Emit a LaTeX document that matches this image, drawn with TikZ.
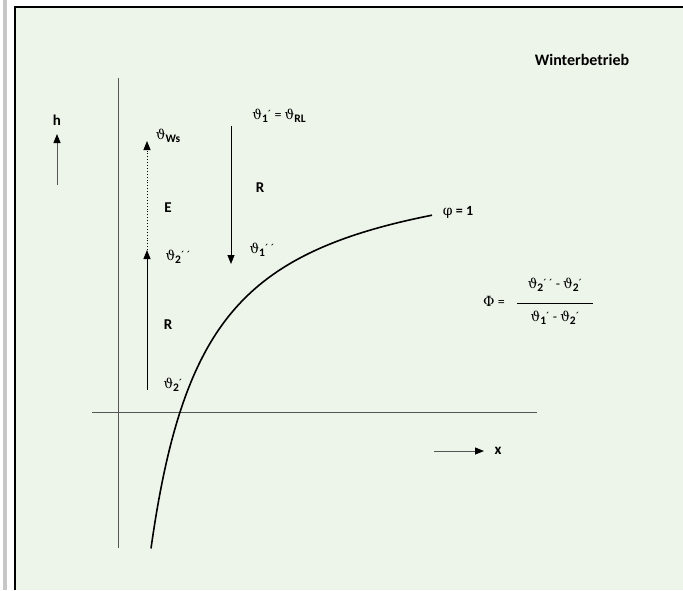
\documentclass[tikz,border=0pt]{standalone}
\usepackage{fontspec}
\setmainfont{Carlito}
\newfontfamily\grk{DejaVu Serif}
\usetikzlibrary{positioning,arrows.meta}
\definecolor{paper}{HTML}{EDF5EA}
\definecolor{axisgray}{HTML}{555555}
\newcommand{\vth}{{\grk\fontsize{13.5}{15}\selectfont ϑ}}
\newcommand{\sub}[1]{\raisebox{-0.5ex}{\fontsize{11.5}{13}\selectfont\bfseries #1}}
\newcommand{\acc}{\raisebox{0.2ex}{\fontsize{12}{13}\selectfont ´}}

\begin{document}
\begin{tikzpicture}[x=1pt, y=-1pt,
  lbl/.style={font=\fontsize{14}{16}\selectfont, inner sep=0pt},
  blbl/.style={font=\fontsize{15}{17}\selectfont\bfseries, inner sep=0pt},
  axis/.style={draw=axisgray, line width=1pt},
  arr/.style={-{Triangle[length=9pt,width=7pt,fill=black,color=black]}, line width=0.9pt}
]
\useasboundingbox (0,0) rectangle (683,590);
% sheet
\fill[paper] (15,7) rectangle (683,590);
\fill[black!22] (3,0) rectangle (6.5,590);
\draw[line width=1.3pt] (15,590) -- (15,7) -- (683,7);

\node[blbl, font=\fontsize{16}{18}\selectfont\bfseries] (title) at (582,60) {Winterbetrieb};

% axes
\coordinate (ybot) at (118,548);
\coordinate (ytop) at (118,78);
\coordinate (xleft) at (92,412);
\coordinate (xright) at (537,412);
\draw[axis] (ybot) -- (ytop);
\draw[axis] (xleft) -- (xright);

\node[blbl] (h) at (57,120) {h};
\coordinate (hfoot) at (57,185);
\coordinate (htip) at (57,134);
\draw[arr, axisgray] (hfoot) -- (htip);

\node[blbl] (x) at (498,451) {x};
\coordinate (xfoot) at (434,451);
\coordinate (xtip) at (484,451);
\draw[arr, axisgray] (xfoot) -- (xtip);

% heating on the left
\coordinate (rfoot) at (147,390);
\coordinate (rtip) at (147,250);
\coordinate (etip) at (147,141);
\draw[arr] (rfoot) -- (rtip);
\draw[arr, dotted] (rtip) -- (etip);

\node[lbl] (t2a) at (173,385) {\vth\sub{2}\acc};
\node[lbl] (t2b) at (178,257) {\vth\sub{2}\acc\,\acc};
\node[lbl] (tws) at (168,136) {\vth\sub{Ws}};
\node[blbl] (rlow) at (168,325) {R};
\node[blbl] (e) at (168,208) {E};

% cooling on the right
\coordinate (ctop) at (231,126);
\coordinate (ctip) at (231,264);
\draw[arr] (ctop) -- (ctip);

\node[lbl] (t1a) at (279,116) {\vth\sub{1}\acc{} = \vth\sub{RL}};
\node[lbl] (t1b) at (262,250) {\vth\sub{1}\acc\,\acc};
\node[blbl] (rup) at (260,188) {R};

% saturation line
\draw[line width=1.6pt] plot[domain=151:432, samples=150, variable=\t] (\t, {148.8+223.8/(\t-95)*100});
\node[lbl] (phi) at (458,212) {{\grk φ} \textbf{= 1}};

% efficiency
\node[lbl] (bigphi) at (494,301) {{\grk Φ} =};
\node[lbl] (num) at (555,285) {\vth\sub{2}\acc\,\acc{} - \vth\sub{2}\acc};
\node[lbl] (den) at (555,318) {\vth\sub{1}\acc{} - \vth\sub{2}\acc};
\coordinate (fracl) at (517,303);
\coordinate (fracr) at (593,303);
\draw[line width=0.9pt] (fracl) -- (fracr);
\end{tikzpicture}
\end{document}
